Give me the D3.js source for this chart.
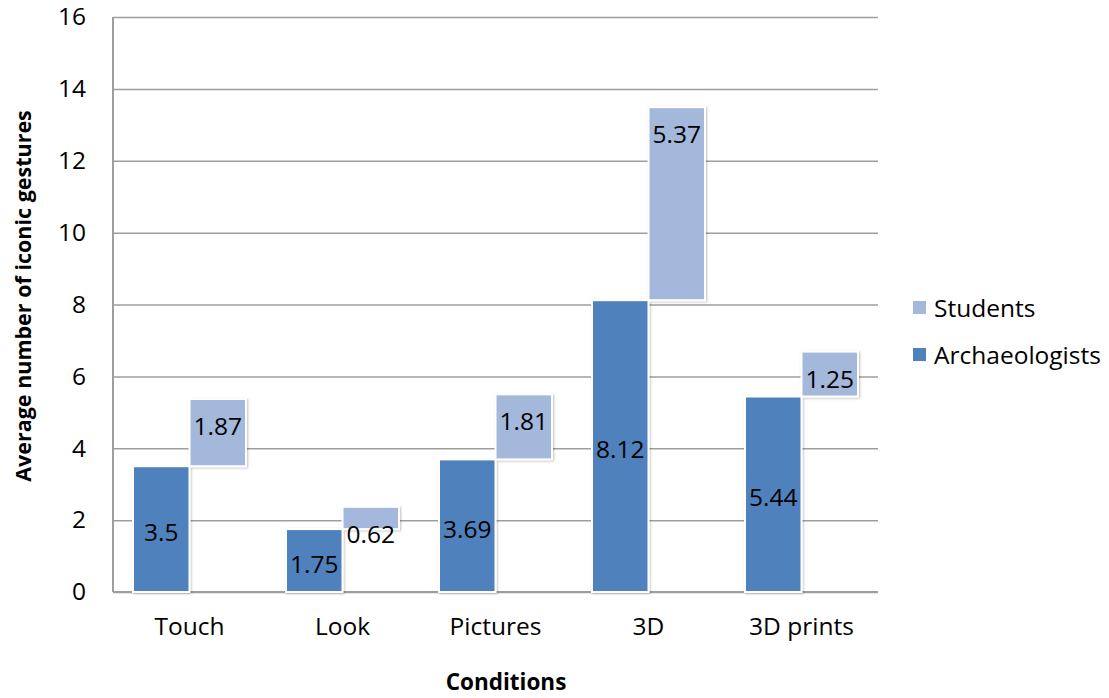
<!DOCTYPE html>
<html>
<head>
<meta charset="utf-8">
<script src="https://cdn.jsdelivr.net/npm/d3@7/dist/d3.min.js"></script>
<style>
  html, body { margin: 0; padding: 0; background: #fff; }
  svg { display: block; font-family: "Open Sans", "Noto Sans", sans-serif; }
</style>
</head>
<body>
<svg id="chart" width="1109" height="698"></svg>
<script>
// Average number of iconic gestures per condition
const categories = ["Touch", "Look", "Pictures", "3D", "3D prints"];
const archaeologists = [3.5, 1.75, 3.69, 8.12, 5.44];
const students = [1.87, 0.62, 1.81, 5.37, 1.25];
const seriesNames = ["Archaeologists", "Students"];
const yTicks = [0, 2, 4, 6, 8, 10, 12, 14, 16];

const colors = { Archaeologists: "#4F81BD", Students: "#A3B8DB" };
const FONT = "'Open Sans', 'Noto Sans', sans-serif";
const FS = 24.5;

const svg = d3.select("#chart");
const plot = { left: 113, right: 878, top: 17, bottom: 592 };

const x = d3.scaleBand().domain(categories).range([plot.left, plot.right]);
const inner = d3.scaleBand().domain(seriesNames)
  .range([0, x.bandwidth()]).paddingInner(0).paddingOuter(0.354);
const y = d3.scaleLinear().domain([0, 16]).range([plot.bottom, plot.top]);

// soft drop shadow under the bars
const defs = svg.append("defs");
const f = defs.append("filter").attr("id", "shadow")
  .attr("x", "-10%").attr("y", "-10%").attr("width", "130%").attr("height", "130%");
f.append("feDropShadow").attr("dx", 1).attr("dy", 1).attr("stdDeviation", 1.2)
  .attr("flood-color", "#000").attr("flood-opacity", 0.25);

// gridlines
svg.append("g")
  .attr("transform", `translate(${plot.left},0)`)
  .call(d3.axisLeft(y).tickValues(yTicks).tickSize(-(plot.right - plot.left)).tickFormat(""))
  .call(g => g.select(".domain").remove())
  .call(g => g.selectAll("line").attr("stroke", "#9E9E9E").attr("stroke-width", 1.5));

// y tick labels
svg.append("g")
  .attr("transform", `translate(${plot.left},0)`)
  .call(d3.axisLeft(y).tickValues(yTicks).tickSize(0).tickPadding(27))
  .call(g => g.select(".domain").remove())
  .call(g => g.selectAll("text").attr("font-size", FS).attr("fill", "#000")
    .attr("font-family", FONT));

// axis lines
svg.append("line").attr("x1", plot.left).attr("x2", plot.left)
  .attr("y1", plot.top).attr("y2", plot.bottom)
  .attr("stroke", "#9E9E9E").attr("stroke-width", 2);
svg.append("line").attr("x1", plot.left).attr("x2", plot.right)
  .attr("y1", plot.bottom).attr("y2", plot.bottom)
  .attr("stroke", "#9E9E9E").attr("stroke-width", 2);

// x category labels
svg.append("g")
  .attr("transform", `translate(0,${plot.bottom})`)
  .call(d3.axisBottom(x).tickSize(0).tickPadding(26))
  .call(g => g.select(".domain").remove())
  .call(g => g.selectAll("text").attr("font-size", FS).attr("fill", "#000")
    .attr("font-family", FONT));

const rows = categories.map((c, i) => ({
  cat: c, arch: archaeologists[i], stud: students[i]
}));

const bars = svg.append("g").attr("filter", "url(#shadow)");

// archaeologists: from zero
bars.selectAll("rect.arch").data(rows).join("rect")
  .attr("class", "arch")
  .attr("x", d => x(d.cat) + inner("Archaeologists"))
  .attr("width", inner.bandwidth())
  .attr("y", d => y(d.arch))
  .attr("height", d => y(0) - y(d.arch))
  .attr("fill", colors.Archaeologists)
  .attr("stroke", "#fff").attr("stroke-width", 2);

// students: floating on top of the archaeologists' value
bars.selectAll("rect.stud").data(rows).join("rect")
  .attr("class", "stud")
  .attr("x", d => x(d.cat) + inner("Students"))
  .attr("width", inner.bandwidth())
  .attr("y", d => y(d.arch + d.stud))
  .attr("height", d => y(d.arch) - y(d.arch + d.stud))
  .attr("fill", colors.Students)
  .attr("stroke", "#fff").attr("stroke-width", 2);

// value labels
const labels = svg.append("g").attr("font-size", FS).attr("fill", "#000")
  .attr("text-anchor", "middle");
labels.selectAll("text.arch").data(rows).join("text")
  .attr("x", d => x(d.cat) + inner("Archaeologists") + inner.bandwidth() / 2)
  .attr("y", d => (y(0) + y(d.arch)) / 2 + 12)
  .text(d => d.arch);
labels.selectAll("text.stud").data(rows).join("text")
  .attr("x", d => x(d.cat) + inner("Students") + inner.bandwidth() / 2)
  .attr("y", d => y(d.arch + d.stud) + 36)
  .text(d => d.stud);

// axis titles
svg.append("text")
  .attr("transform", `translate(31,${296}) rotate(-90)`)
  .attr("text-anchor", "middle").attr("font-size", 21.5).attr("font-weight", "bold")
  .text("Average number of iconic gestures");
svg.append("text")
  .attr("x", 506).attr("y", 690)
  .attr("text-anchor", "middle").attr("font-size", 22.5).attr("font-weight", "bold")
  .text("Conditions");

// legend
const legendItems = ["Students", "Archaeologists"];
const legend = svg.append("g");
legendItems.forEach((name, i) => {
  const ly = 308 + i * 47;
  legend.append("rect").attr("x", 913).attr("y", ly - 7).attr("width", 13).attr("height", 13)
    .attr("fill", colors[name]);
  legend.append("text").attr("x", 934).attr("y", ly + 9).attr("font-size", FS)
    .text(name);
});
</script>
</body>
</html>
